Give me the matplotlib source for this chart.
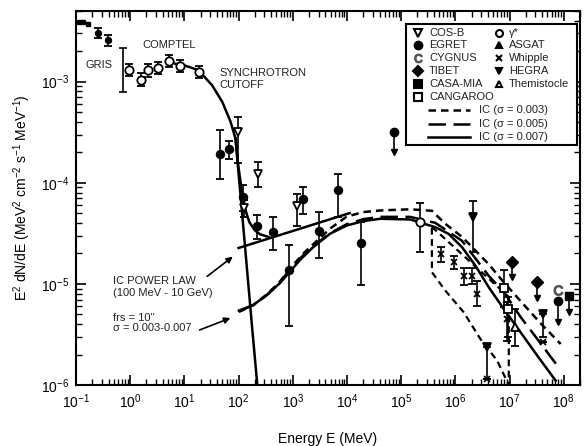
import numpy as np
import matplotlib
matplotlib.use('Agg')
import matplotlib.pyplot as plt
from matplotlib.patches import Rectangle

plt.rcParams['font.family'] = ['Liberation Sans', 'DejaVu Sans']
plt.rcParams['mathtext.fontset'] = 'custom'
plt.rcParams['mathtext.rm'] = 'Liberation Sans'
plt.rcParams['mathtext.it'] = 'Liberation Sans:italic'
plt.rcParams['mathtext.bf'] = 'Liberation Sans:bold'

# ---- data points (E in MeV, E^2 dN/dE) ----
gris_small_E = [0.115, 0.135, 0.165]
gris_small_F = [3.9e-3, 3.85e-3, 3.7e-3]
gris_E = [0.255, 0.39]
gris_F = [3.05e-3, 2.56e-3]
gris_lo = [2.7e-3, 2.25e-3]
gris_hi = [3.4e-3, 2.9e-3]
gris_bar_E = [0.75]
gris_bar_F = [1.3e-3]
gris_bar_lo = [7.9e-4]
gris_bar_hi = [2.16e-3]

comptel_E = [0.97, 1.58, 2.09, 3.3, 5.2, 8.4, 18.4]
comptel_F = [1.31e-3, 1.05e-3, 1.29e-3, 1.37e-3, 1.59e-3, 1.44e-3, 1.25e-3]
comptel_lo = [1.14e-3, 0.91e-3, 1.12e-3, 1.19e-3, 1.39e-3, 1.25e-3, 1.09e-3]
comptel_hi = [1.50e-3, 1.21e-3, 1.48e-3, 1.57e-3, 1.82e-3, 1.65e-3, 1.43e-3]

egret_E = [44.5, 66, 120, 222, 432, 853, 1550, 3070, 6900, 18000]
egret_F = [1.94e-4, 2.14e-4, 7.2e-5, 3.78e-5, 3.25e-5, 1.36e-5, 6.95e-5, 3.37e-5, 8.4e-5, 2.53e-5]
egret_lo = [1.10e-4, 1.73e-4, 5.2e-5, 2.8e-5, 2.14e-5, 3.87e-6, 4.93e-5, 1.8e-5, 4.57e-5, 9.8e-6]
egret_hi = [3.3e-4, 2.58e-4, 9.5e-5, 4.8e-5, 4.57e-5, 2.43e-5, 9.06e-5, 5.13e-5, 1.23e-4, 4.1e-5]

cosb_E = [97, 127, 228, 1200]
cosb_F = [3.2e-4, 5.6e-5, 1.21e-4, 5.87e-5]
cosb_lo = [1.56e-4, 4.6e-5, 9.1e-5, 3.78e-5]
cosb_hi = [4.44e-4, 6.8e-5, 1.62e-4, 7.8e-5]

gstar_E = [2.19e5]
gstar_F = [4.12e-5]
gstar_lo = [2.08e-5]
gstar_hi = [6.35e-5]

whipple_E = [5.5e5, 9.3e5, 1.43e6, 2.04e6, 2.52e6, 9.06e6, 3.85e6, 4.2e7]
whipple_F = [1.98e-5, 1.64e-5, 1.21e-5, 1.21e-5, 7.96e-6, 4.5e-6, 1.15e-6, 2.65e-6]
whipple_lo = [1.64e-5, 1.41e-5, 9.8e-6, 1.0e-5, 6.0e-6, 2.75e-6, 1.15e-6, 2.65e-6]
whipple_hi = [2.31e-5, 1.88e-5, 1.43e-5, 1.45e-5, 1.06e-5, 6.6e-6, 1.15e-6, 2.65e-6]

hegra_E = [2.12e6, 3.85e6, 4.2e7]
hegra_F = [4.62e-5, 2.37e-6, 5.05e-6]
hegra_lo = [2.08e-5, 1.15e-6, 3.0e-6]
hegra_hi = [6.6e-5, 2.37e-6, 5.05e-6]

cangaroo_E = [7.85e6, 9.5e6]
cangaroo_F = [9.06e-6, 5.6e-6]
cangaroo_lo = [5.9e-6, 3.0e-6]
cangaroo_hi = [1.38e-5, 7.5e-6]

themis_E = [1.26e7]
themis_F = [3.72e-6]
themis_lo = [2.45e-6]
themis_hi = [5.65e-6]

# upper limits: marker value and arrow tip
ul_egret_E = [7.5e4, 7.8e7]
ul_egret_F = [3.2e-4, 6.84e-6]
ul_egret_tip = [2.03e-4, 4.2e-6]
tibet_E = [1.09e7, 3.26e7]
tibet_F = [1.66e-5, 1.04e-5]
tibet_tip = [1.18e-5, 7.2e-6]
casa_E = [1.25e8]
casa_F = [7.6e-6]
casa_tip = [5.3e-6]
cygnus_E = [7.8e7]
cygnus_F = [8.8e-6]

# ---- model curves (log10 E, log10 E^2 dN/dE) ----
sync_logE = [0.833, 1.019, 1.259, 1.513, 1.698, 1.852, 1.944, 1.987, 2.049, 2.15, 2.25, 2.346]
sync_logF = [-2.822, -2.842, -2.886, -3.037, -3.198, -3.396, -3.564, -3.83, -4.2, -4.82, -5.43, -6.0]
total_logE = [1.944, 1.987, 2.049, 2.10, 2.15, 2.20, 2.30, 2.40, 2.55]
total_logF = [-3.56, -3.80, -4.04, -4.20, -4.31, -4.39, -4.47, -4.51, -4.535]
plaw_logE = [2.0, 4.05]
plaw_logF = [-4.645, -4.30]

ic003_logE = [2.006, 2.27, 2.52, 2.76, 2.944, 3.222, 3.685, 3.994, 4.3, 4.611, 5.167, 5.568,
              5.815, 6.124, 6.370, 6.611, 6.865, 7.204, 7.574, 7.944]
ic003_logF = [-5.277, -5.21, -5.105, -4.98, -4.85, -4.686, -4.455, -4.335, -4.29, -4.274, -4.262,
              -4.277, -4.406, -4.535, -4.670, -4.802, -4.965, -5.17, -5.39, -5.594]
ic005_logE = [2.006, 2.27, 2.52, 2.76, 2.926, 3.13, 3.376, 3.685, 3.994, 4.3, 4.611, 5.167, 5.630,
              6.124, 6.617, 6.894, 7.204, 7.513, 7.883]
ic005_logF = [-5.272, -5.21, -5.112, -4.99, -4.87, -4.75, -4.629, -4.50, -4.41, -4.36, -4.337,
              -4.337, -4.396, -4.574, -4.921, -5.079, -5.327, -5.545, -5.809]
ic007_logE = [2.006, 2.27, 2.52, 2.76, 2.948, 3.133, 3.376, 3.685, 3.994, 4.302, 4.611, 5.167,
              5.630, 5.876, 6.124, 6.370, 6.617, 6.894, 7.204, 7.513, 7.852]
ic007_logF = [-5.264, -5.21, -5.11, -4.994, -4.879, -4.764, -4.637, -4.505, -4.423, -4.379, -4.356,
              -4.363, -4.439, -4.505, -4.637, -4.819, -5.033, -5.248, -5.478, -5.710, -5.957]

box_logE = [5.568, 6.987, 6.987, 6.772, 6.463, 6.154, 5.815, 5.568, 5.568]
box_logF = [-4.436, -5.129, -6.0, -5.759, -5.545, -5.280, -5.066, -4.884, -4.436]


def pix(x, y):
    # pixel position in the figure -> axes fraction
    return (x - 76) / 504, (385 - y) / 374


def errs(F, lo, hi):
    F = np.array(F)
    return [F - np.array(lo), np.array(hi) - F]


def ebar(ax, E, F, lo, hi, marker, face, ms=5.5):
    ax.errorbar(E, F, yerr=errs(F, lo, hi), fmt=marker, ms=ms, mfc=face, mec='k',
                mew=1.3, ecolor='k', elinewidth=1.2, capsize=3, capthick=1.2, zorder=4)


def uplim(ax, E, F, tip, marker, face, ms=6):
    for e, f, t in zip(E, F, tip):
        ax.plot([e, e], [f, t], color='k', lw=1.2, zorder=4)
        ax.plot([e], [t], marker='v', ms=4, color='k', zorder=4)
    ax.plot(E, F, marker, ms=ms, mfc=face, mec='k', zorder=5)


def curve(ax, logE, logF, **kw):
    ax.plot(10 ** np.array(logE), 10 ** np.array(logF), color='k', zorder=3, **kw)


fig = plt.figure(figsize=(5.85, 4.46), dpi=100)
ax = fig.add_axes([76 / 585, 1 - 385 / 446, 504 / 585, 374 / 446])
ax.set_xscale('log')
ax.set_yscale('log')
ax.set_xlim(0.1, 2e8)
ax.set_ylim(1e-6, 5e-3)

# curves
curve(ax, sync_logE, sync_logF, lw=1.8)
curve(ax, total_logE, total_logF, lw=1.8)
curve(ax, plaw_logE, plaw_logF, lw=1.8)
curve(ax, ic003_logE, ic003_logF, lw=1.8, dashes=(3, 2))
curve(ax, ic005_logE, ic005_logF, lw=1.8, dashes=(7, 3))
curve(ax, ic007_logE, ic007_logF, lw=1.8)
curve(ax, box_logE, box_logF, lw=1.6, dashes=(3, 2))

# data
ax.plot(gris_small_E, gris_small_F, 's', ms=2.5, color='k', zorder=4)
ebar(ax, gris_E, gris_F, gris_lo, gris_hi, 'o', 'k', ms=4)
ax.errorbar(gris_bar_E, gris_bar_F, yerr=errs(gris_bar_F, gris_bar_lo, gris_bar_hi), fmt='none',
            ecolor='k', elinewidth=1.2, capsize=3, capthick=1.2)
ebar(ax, comptel_E, comptel_F, comptel_lo, comptel_hi, 'o', 'w', ms=6)
ebar(ax, egret_E, egret_F, egret_lo, egret_hi, 'o', 'k')
ebar(ax, cosb_E, cosb_F, cosb_lo, cosb_hi, 'v', 'w')
ebar(ax, gstar_E, gstar_F, gstar_lo, gstar_hi, 'o', 'w', ms=6)
ebar(ax, whipple_E, whipple_F, whipple_lo, whipple_hi, 'x', 'k', ms=4)
ebar(ax, hegra_E, hegra_F, hegra_lo, hegra_hi, 'v', 'k')
ebar(ax, cangaroo_E, cangaroo_F, cangaroo_lo, cangaroo_hi, 's', 'w')
ebar(ax, themis_E, themis_F, themis_lo, themis_hi, '^', 'w')
uplim(ax, ul_egret_E, ul_egret_F, ul_egret_tip, 'o', 'k')
uplim(ax, tibet_E, tibet_F, tibet_tip, 'D', 'k')
uplim(ax, casa_E, casa_F, casa_tip, 's', 'k')
ax.plot(cygnus_E, cygnus_F, marker=r'$\mathrm{C}$', ms=7, color='#555555', ls='none', zorder=5)

# annotations
tc = '#222222'
ax.text(*pix(86, 65), 'GRIS', transform=ax.transAxes, fontsize=8, color=tc, va='center')
ax.text(*pix(142, 45), 'COMPTEL', transform=ax.transAxes, fontsize=8, color=tc, va='center')
ax.text(*pix(219, 79), 'SYNCHROTRON\nCUTOFF', transform=ax.transAxes, fontsize=8, color=tc,
        va='center', linespacing=1.15)
ax.text(*pix(113, 287), 'IC POWER LAW\n(100 MeV - 10 GeV)', transform=ax.transAxes,
        fontsize=8, color=tc, va='center', linespacing=1.15)
ax.text(*pix(113, 323), "frs = 10''\nσ = 0.003-0.007", transform=ax.transAxes,
        fontsize=8, color=tc, va='center', linespacing=1.1)
ax.annotate('', xy=pix(235, 255), xytext=pix(205, 278), xycoords='axes fraction',
            textcoords='axes fraction',
            arrowprops=dict(arrowstyle='-|>', color='k', lw=1.2, mutation_scale=9))
ax.annotate('', xy=pix(233, 317), xytext=pix(197, 331), xycoords='axes fraction',
            textcoords='axes fraction',
            arrowprops=dict(arrowstyle='-|>', color='k', lw=1.2, mutation_scale=9))

# legend drawn by hand
x0, y1 = pix(406, 24)
x1, y0 = pix(577, 145)
ax.add_patch(Rectangle((x0, y0), x1 - x0, y1 - y0, transform=ax.transAxes, fc='w',
                       ec='k', lw=1.5, zorder=6, clip_on=False))
rows = [33, 45, 58, 71, 84, 97, 110, 124, 137]
col1 = [('v', 'w', 'COS-B'), ('o', 'k', 'EGRET'), (r'$\mathrm{C}$', 'k', 'CYGNUS'),
        ('D', 'k', 'TIBET'), ('s', 'k', 'CASA-MIA'), ('s', 'w', 'CANGAROO')]
col2 = [('o', 'w', 'γ*'), ('^', 'k', 'ASGAT'), ('x', 'k', 'Whipple'),
        ('v', 'k', 'HEGRA'), ('^', 'w', 'Themistocle')]
for (mk, fc, lab), ry in zip(col1, rows):
    mx, my = pix(418, ry)
    if lab == 'CYGNUS':
        ax.plot([mx], [my], marker=mk, ms=6, color='#555555', transform=ax.transAxes,
                clip_on=False, zorder=7)
    else:
        ax.plot([mx], [my], marker=mk, ms=5.5, mfc=fc, mec='k', mew=1.5,
                transform=ax.transAxes, clip_on=False, zorder=7)
    ax.text(*pix(429, ry), lab, transform=ax.transAxes, fontsize=8, va='center', color=tc, zorder=7)
for (mk, fc, lab), ry in zip(col2, rows):
    mx, my = pix(499, ry)
    ax.plot([mx], [my], marker=mk, ms=5, mfc=fc, mec='k', mew=1.5,
            transform=ax.transAxes, clip_on=False, zorder=7)
    ax.text(*pix(509, ry), lab, transform=ax.transAxes, fontsize=8, va='center', color=tc, zorder=7)
line_styles = [((3, 2), 'IC (σ = 0.003)'), ((7, 3), 'IC (σ = 0.005)'), (None, 'IC (σ = 0.007)')]
for (ds, lab), ry in zip(line_styles, rows[6:]):
    lx0, ly = pix(428, ry)
    lx1, _ = pix(470, ry)
    if ds is None:
        ax.plot([lx0, lx1], [ly, ly], color='k', lw=1.8, transform=ax.transAxes,
                clip_on=False, zorder=7)
    else:
        ax.plot([lx0, lx1], [ly, ly], color='k', lw=1.8, dashes=ds,
                transform=ax.transAxes, clip_on=False, zorder=7)
    ax.text(*pix(479, ry), lab, transform=ax.transAxes, fontsize=8, va='center', color=tc, zorder=7)

# axes styling
for s in ax.spines.values():
    s.set_linewidth(1.5)
ax.tick_params(which='both', direction='in', top=True, right=True, labelsize=10)
ax.tick_params(which='major', length=7, width=1.2)
ax.tick_params(which='minor', length=4, width=1.0)
ax.tick_params(axis='x', pad=5)
ax.tick_params(axis='y', pad=5)
ax.set_xlabel('Energy E (MeV)', fontsize=10)
ax.set_ylabel(r'E$^2$ dN/dE (MeV$^2$ cm$^{-2}$ s$^{-1}$ MeV$^{-1}$)', fontsize=10)
ax.xaxis.set_label_coords(0.5, -0.125)
ax.yaxis.set_label_coords(-0.086, 0.5)

fig.savefig('out.png', dpi=100)
